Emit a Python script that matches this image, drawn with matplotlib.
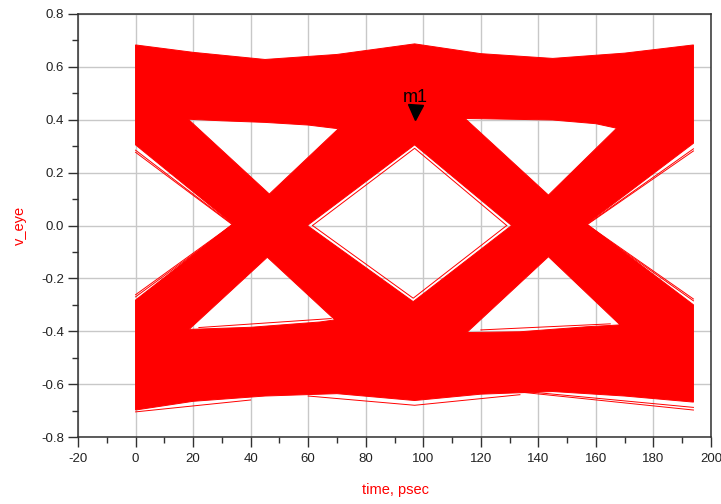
import numpy as np
import matplotlib
matplotlib.use("Agg")
import matplotlib.pyplot as plt
from matplotlib.path import Path
from matplotlib.patches import PathPatch
from matplotlib.ticker import MultipleLocator, FormatStrFormatter

plt.rcParams['font.family'] = ['Liberation Sans', 'DejaVu Sans']
plt.rcParams['axes.unicode_minus'] = False

# ---- eye envelope (time in psec, v_eye) ----
top_t = [0, 20, 45, 70, 97, 120, 145, 170, 193.9]
top_v = [0.683, 0.655, 0.628, 0.647, 0.687, 0.650, 0.632, 0.652, 0.683]
bot_t = [0, 20, 45, 70, 97, 120, 145, 170, 193.9]
bot_v = [-0.698, -0.665, -0.645, -0.636, -0.662, -0.638, -0.628, -0.645, -0.668]
rnotch_t = [193.9, 156.8, 193.9]
rnotch_v = [0.311, 0.006, -0.300]
lnotch_t = [0, 33.8, 0]
lnotch_v = [-0.282, 0.006, 0.305]

# ---- eye openings (holes) ----
ul_t = [18.3, 30, 45, 60, 70.5, 46.5]
ul_v = [0.402, 0.396, 0.390, 0.380, 0.366, 0.119]
ll_t = [18.6, 45.8, 69.3, 64, 40]
ll_v = [-0.393, -0.120, -0.357, -0.365, -0.385]
dia_t = [59.7, 97, 130.7, 96.5]
dia_v = [0.0, 0.305, 0.0, -0.288]
ur_t = [114.5, 130, 145, 160, 167.2, 143.5]
ur_v = [0.405, 0.402, 0.399, 0.385, 0.368, 0.115]
lr_t = [115.1, 143.5, 168.4, 156.8, 133.6]
lr_v = [-0.405, -0.118, -0.376, -0.383, -0.402]

# ---- stray traces outside the dense band ----
traces = [
    ([0, 33.8], [0.285, 0.004]),
    ([0, 33.8], [0.277, 0.002]),
    ([0, 33.8], [-0.262, 0.004]),
    ([0, 33.8], [-0.270, 0.002]),
    ([156.8, 193.9], [0.004, 0.290]),
    ([156.8, 193.9], [0.002, 0.282]),
    ([156.8, 193.9], [0.004, -0.278]),
    ([156.8, 193.9], [0.002, -0.285]),
    ([61.5, 97, 129.0], [0.0, 0.292, 0.0]),
    ([61.5, 96.5, 129.0], [0.0, -0.275, 0.0]),
    ([22, 68], [-0.386, -0.352]),
    ([133.6, 193.9], [-0.630, -0.698]),
    ([133.6, 193.9], [-0.626, -0.688]),
    ([60, 97, 133.6], [-0.645, -0.680, -0.640]),
    ([0, 40], [-0.705, -0.66]),
    ([120, 165], [-0.395, -0.372]),
]

marker_t, marker_v = 97.1, 0.4275
marker_label = "m1"

x_ticks = [-20, 0, 20, 40, 60, 80, 100, 120, 140, 160, 180, 200]
y_ticks = [-0.8, -0.6, -0.4, -0.2, 0.0, 0.2, 0.4, 0.6, 0.8]


def ring(ts, vs, ccw=True):
    pts = np.column_stack([ts, vs]).astype(float)
    x, y = pts[:, 0], pts[:, 1]
    area = 0.5 * np.sum(x * np.roll(y, -1) - np.roll(x, -1) * y)
    if (area > 0) != ccw:
        pts = pts[::-1]
    verts = np.vstack([pts, pts[:1]])
    codes = [Path.MOVETO] + [Path.LINETO] * (len(pts) - 1) + [Path.CLOSEPOLY]
    return verts, codes


outer_t = list(top_t) + rnotch_t + list(bot_t)[::-1] + lnotch_t
outer_v = list(top_v) + rnotch_v + list(bot_v)[::-1] + lnotch_v

all_verts, all_codes = [], []
v, c = ring(outer_t, outer_v, ccw=True)
all_verts.append(v); all_codes += c
for ht, hv in [(ul_t, ul_v), (ll_t, ll_v), (dia_t, dia_v), (ur_t, ur_v), (lr_t, lr_v)]:
    v, c = ring(ht, hv, ccw=False)
    all_verts.append(v); all_codes += c
path = Path(np.vstack(all_verts), all_codes)

fig = plt.figure(figsize=(7.21, 5.04), dpi=100)
ax = fig.add_axes([78 / 721, 1 - 437 / 504, 633 / 721, 423 / 504])

red = '#ff0000'
ax.add_patch(PathPatch(path, facecolor=red, edgecolor=red, lw=0.7, zorder=2))
for tt, vv in traces:
    ax.plot(tt, vv, color=red, lw=0.7, zorder=2)

ax.plot([marker_t], [marker_v], marker='v', color='black', markersize=10.8,
        linestyle='none', zorder=4)
ax.text(marker_t, 0.468, marker_label, ha='center', va='baseline',
        fontsize=13, color='black', zorder=4)

ax.set_xlim(-20, 200)
ax.set_ylim(-0.8, 0.8)
ax.set_xticks(x_ticks)
ax.set_yticks(y_ticks)
ax.xaxis.set_minor_locator(MultipleLocator(10))
ax.yaxis.set_minor_locator(MultipleLocator(0.1))
ax.yaxis.set_major_formatter(FormatStrFormatter('%.1f'))
ax.xaxis.set_major_formatter(FormatStrFormatter('%d'))

ax.set_axisbelow(True)
ax.grid(True, which='major', color='#c8c8c8', lw=1.0, zorder=0)

for s in ax.spines.values():
    s.set_color('#303030')
    s.set_linewidth(1.1)

ax.tick_params(which='major', direction='out', length=7.5, width=1.0,
               color='#303030', labelsize=9.5, labelcolor='#222222', pad=2.5)
ax.tick_params(which='minor', direction='out', length=4.5, width=1.0,
               color='#303030')
ax.tick_params(axis='x', which='major', pad=4)

fig.text(395 / 721, 1 - 490 / 504, 'time, psec', color=red, fontsize=10.5,
         ha='center', va='center')
fig.text(20 / 721, 1 - 225 / 504, 'v_eye', color=red, fontsize=10.5,
         ha='center', va='center', rotation=90)

fig.savefig('out.png', dpi=100)
